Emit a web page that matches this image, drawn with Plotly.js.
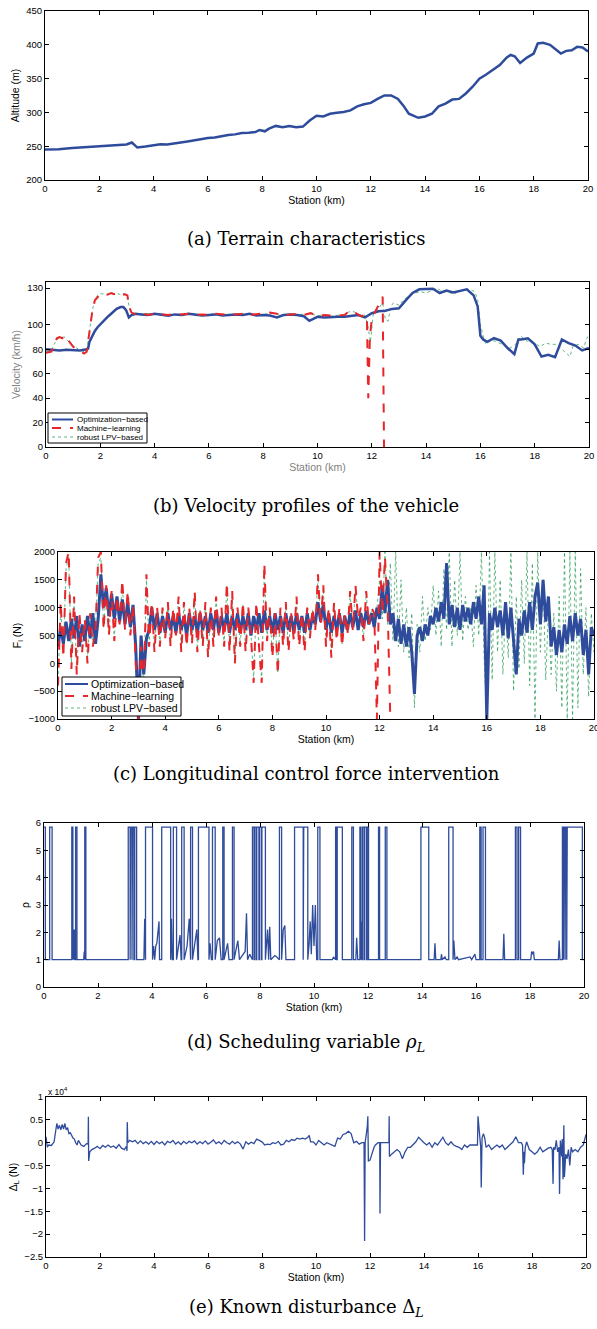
<!DOCTYPE html>
<html>
<head>
<meta charset="utf-8">
<script src="https://cdn.plot.ly/plotly-3.0.1.min.js"></script>
<style>html,body{margin:0;padding:0;background:#fff;}#chart{width:597px;height:1329px;}</style>
</head>
<body>
<div id="chart"></div>
<script>
// ---------------- (a) Terrain ----------------
const altStation = [0,0.5,1,1.5,2,2.5,3,3.2,3.4,3.7,4,4.25,4.5,4.75,5,5.25,5.5,5.75,6,6.25,6.5,6.75,7,7.25,7.5,7.75,7.9,8.1,8.25,8.5,8.75,9,9.25,9.5,9.75,10,10.25,10.5,10.75,11,11.25,11.5,11.75,12,12.25,12.5,12.75,13,13.2,13.4,13.75,14,14.25,14.5,14.75,15,15.25,15.5,15.75,16,16.25,16.5,16.75,17,17.15,17.3,17.5,17.75,18,18.15,18.35,18.6,18.8,19,19.2,19.4,19.6,19.8,20];
const altitude   = [245,245.5,247.5,248.5,250,251.5,252.5,255.5,248,249.5,252,253,252.5,253.5,255.5,257,259,260.5,262,263,265,266.5,267.5,269.5,270,271,274,272,276,280,278,280,278,279,288,295,294,298,299.5,300.5,303,309,312,314,320,325,325,320,310,298,292,294,298,309,313,319,320,328,338,350,356,363,370,381,385,383,373,381,387,402,403,400,394,387,391,392,397,396,390];

// ---------------- (b) Velocity ----------------
const velOptStation = [0,0.25,0.5,0.75,1,1.25,1.5,1.55,1.6,1.7,1.8,1.9,2,2.1,2.25,2.4,2.5,2.6,2.75,2.85,2.95,3.05,3.15,3.3,3.5,3.75,4,4.25,4.5,4.75,5,5.25,5.5,5.75,6,6.25,6.5,6.75,7,7.25,7.5,7.75,8,8.25,8.5,8.75,9,9.25,9.5,9.7,10,10.25,10.5,10.75,11,11.25,11.5,11.75,12,12.25,12.5,12.75,13,13.25,13.5,13.75,14,14.25,14.5,14.75,15,15.25,15.5,15.75,15.9,16,16.1,16.25,16.5,16.75,17,17.25,17.4,17.5,17.75,18,18.25,18.5,18.75,19,19.25,19.5,19.75,20];
const velOpt = [80,79.5,79,79.5,79.5,79,80,80.5,86,91,95,98,100.5,103,106,109,111,113,114.5,114.5,112,106,108,109,108.5,108,109,108,107.5,108.5,108,109,108,107.5,108,108.5,107.5,108,108.5,108,109,107.5,108,107.5,106,108,108.5,108,107,103.2,106.5,106,106.5,106.5,106.5,107.5,108,106,109.5,111,111.5,113,113.5,120,126,129,129.5,129.5,126,128,126.5,128,129,124,115,91,88,86,89,87,81,76,88,88,89,84,74,75.5,73.5,88,85,83,79,81];

const velMLStation = [0,0.2,0.3,0.4,0.5,0.6,0.7,0.8,1.0,1.2,1.4,1.5,1.6,1.7,1.8,1.9,2.0,2.25,2.4,2.5,2.6,2.75,2.9,3.0,3.05,3.15,3.3,3.5,3.75,4,4.25,4.5,4.75,5,5.25,5.5,5.75,6,6.25,6.5,6.75,7,7.25,7.5,7.75,8,8.25,8.5,8.75,9,9.25,9.5,9.75,10,10.25,10.5,10.75,11,11.15,11.3,11.45,11.6,11.75,11.82,11.87,11.93,12.0,12.1,12.2,12.3,12.4,12.45];
const velML = [77,78,83,89,90,89,91,88,82,79,76.5,78,95,110,120,123,125,124.5,126,125,126,124,125,124,115,110,108.5,109.5,108,109,108.5,108,109,108.5,109,108,108.5,108,109,108.5,108,108.5,109,108,108.5,109,110,109,107.5,108.5,109,108,109.5,107,108,107.5,108,108,111,111.5,109,107,108,107,40,90,105,110,114,118,123,0];

const velLPVStation = [0,0.2,0.3,0.4,0.5,0.6,0.7,0.8,1.0,1.2,1.4,1.5,1.6,1.7,1.8,1.9,2.0,2.25,2.4,2.5,2.6,2.75,2.9,3.0,3.05,3.15,3.3,3.5,3.75,4,4.25,4.5,4.75,5,5.25,5.5,5.75,6,6.25,6.5,6.75,7,7.25,7.5,7.75,8,8.25,8.5,8.75,9,9.25,9.5,9.75,10,10.25,10.5,10.75,11,11.15,11.3,11.45,11.6,11.75,11.85,11.95,12.05,12.2,12.4,12.5,12.6,12.7,12.8,13,13.2,13.4,13.6,13.8,14,14.2,14.4,14.6,14.8,15,15.2,15.4,15.6,15.8,15.9,16.0,16.1,16.2,16.3,16.5,16.7,16.9,17.1,17.3,17.5,17.6,17.8,18.0,18.2,18.4,18.6,18.8,19.0,19.2,19.3,19.4,19.6,19.8,19.9,20];
const velLPV = [78,79,84,88,89.5,90,90,87,83,80,78,79,96,111,121,124,125.5,125,126.5,125.5,126,124.5,125.5,124,116,110.5,109,109,108.5,109,108,108.5,108.5,108,109,108.5,108,108.5,109,108,108.5,108,109,108.5,108,108.5,109.5,109,108,108,108.5,108.5,109,107.5,108,107,108,108.5,110.5,111,109.5,107.5,108,100,86,108,112,118,104,103,115,118,116,121,124,126,127,126,128,130,127,127,125,127,129,129,127,120,100,91,84,86,87,85,83,81,84,91,88,86,85,82,85,84,84,80,76,74,82,84,81,88,92];

// ---------------- (c) Longitudinal control force (N), sampled every 0.1 km ----------------
const forceStep = 0.1;
const forceOpt = [300,650,350,750,400,800,450,850,300,700,400,850,450,900,350,800,1600,1000,1350,850,
1250,800,1200,750,1150,700,1100,650,1050,300,-1000,500,-200,450,600,1000,600,900,550,850,
550,900,600,850,550,900,600,850,500,900,600,850,550,900,600,850,550,900,600,950,
550,850,600,900,550,850,600,900,550,850,600,900,500,850,600,900,550,950,600,850,
550,900,600,850,550,900,600,850,550,900,600,850,550,900,600,850,700,1100,750,1050,
600,900,550,850,600,900,550,850,600,900,650,950,600,900,650,950,700,900,650,1000,
800,1400,900,1500,700,900,400,800,350,700,300,650,200,-550,500,650,400,700,500,850,
700,1000,750,1100,800,1800,700,1050,650,1000,600,1050,750,1000,700,1100,800,1200,700,1400,
-1000,900,600,1000,650,950,500,1100,450,1000,400,-200,800,500,950,550,1100,600,1200,1450,
700,1500,750,1200,300,650,150,600,200,700,350,850,400,900,500,800,150,600,-200,650,500];
const forceML = [-400,1100,100,1800,2000,-100,1200,-200,900,200,
800,0,900,300,600,1900,2000,600,1400,500,
1300,400,1200,700,1500,600,1300,500,1050,100,
-1000,300,-500,1600,300,1100,200,1000,300,1000,
450,1100,300,1000,500,1200,200,1100,300,1000,
350,1300,200,1000,300,1100,100,1000,300,1200,
500,1000,300,1450,200,1300,0,1000,300,1100,
200,1000,500,-350,1100,300,-350,1800,400,1000,
100,900,-200,1000,300,1100,200,900,400,1200,
300,900,200,1000,450,1000,600,1600,700,1400,
300,1000,100,1100,400,1000,300,900,500,1300,
600,1400,800,1000,400,1300,700,1000,900,-1000,
2000,900,1900,1000,-1000];
const forceLPV = [-300,1000,200,1700,1900,0,1100,-100,850,250,
750,100,850,350,650,1800,1900,650,1300,550,
1250,450,1150,750,1400,650,1250,550,1000,150,
-900,350,-400,1500,350,1050,250,950,350,950,
500,1050,350,950,550,1150,250,1050,350,950,
400,1250,250,950,350,1050,150,950,350,1150,
550,950,350,1400,250,1250,50,950,350,1050,
250,950,550,-300,1050,350,-300,1700,450,950,
150,850,-150,950,350,1050,250,850,450,1150,
350,850,250,950,500,950,650,1550,750,1350,
350,950,150,1050,450,950,350,850,550,1250,
650,1350,850,950,450,1250,750,950,850,1000,
1500,800,2000,700,1800,400,2000,300,1500,200,
1000,100,900,-800,700,200,1200,400,1000,600,
1400,500,1300,300,1700,600,2000,300,1500,500,
2000,400,1200,600,1000,300,1400,500,2000,100,
-1000,2000,-300,2000,200,1500,-200,1000,100,2000,
-500,1200,-100,1500,0,2000,-400,1800,-1000,2000,
200,1500,-300,1000,-200,900,-500,1200,-800,2000,
-1000,2000,-1000,2000,-800,1700,-200,1000,-600,900,
200];

// ---------------- (d) Scheduling variable ----------------
const rhoStation = [0,0.05,0.05,0.21,0.21,0.3,0.3,1.03,1.03,1.07,1.07,1.1,1.12,1.13,1.14,1.17,1.17,1.22,1.22,1.47,1.49,1.51,1.51,1.55,1.55,
3.12,3.12,3.19,3.19,3.21,3.21,3.26,3.26,3.28,3.28,3.33,3.33,3.36,3.36,3.43,3.43,3.7,3.73,3.76,3.76,4.02,4.02,4.06,4.1,4.14,4.18,4.22,4.26,4.28,
4.36,4.36,4.69,4.69,4.72,4.75,4.79,4.79,4.91,4.91,5.0,5.04,5.08,5.1,5.1,5.19,5.19,5.3,5.38,5.42,5.43,5.43,5.5,5.5,5.6,5.66,5.7,5.72,5.72,6.11,6.11,
6.15,6.2,6.24,6.24,6.34,6.34,6.42,6.5,6.56,6.62,6.62,6.67,6.67,6.8,6.85,6.98,6.98,7.04,7.04,7.1,7.18,7.24,7.45,7.5,7.54,7.62,7.7,
7.72,7.72,7.78,7.78,7.8,7.8,7.86,7.86,7.88,7.88,7.96,7.96,7.98,7.98,8.05,8.05,8.07,8.07,8.2,8.2,8.28,8.32,8.36,8.4,8.55,8.62,8.7,
8.72,8.72,8.8,8.8,8.86,8.92,8.96,9.28,9.28,9.6,9.6,9.62,9.62,9.77,9.77,9.82,9.86,9.9,9.95,10.0,10.05,10.1,10.14,10.14,10.22,10.22,
10.68,10.72,10.78,10.8,10.8,10.84,10.84,10.86,10.86,11.05,11.05,11.4,11.4,11.46,11.46,11.55,11.58,11.62,11.7,11.7,11.74,11.74,11.76,11.78,
11.8,11.8,11.86,11.86,11.88,11.88,11.95,11.95,11.97,11.97,12.02,12.02,12.39,12.39,12.43,12.43,12.64,12.64,12.7,12.7,13.96,13.96,14.25,14.25,
14.45,14.48,14.51,14.7,14.72,14.75,14.85,14.9,14.99,14.99,15.15,15.15,15.18,15.22,15.3,15.35,15.78,15.84,15.96,16.0,16.14,16.14,16.19,16.19,
16.26,16.26,16.35,16.35,17.0,17.03,17.06,17.46,17.46,17.52,17.52,17.58,17.58,17.65,17.65,18.03,18.06,18.1,18.13,18.16,19.05,19.08,19.11,
19.2,19.2,19.24,19.24,19.26,19.26,19.3,19.3,19.32,19.32,19.36,19.36,19.38,19.38,19.94,19.94,20];
const rhoValue = [5.85,5.85,1,1,5.85,5.85,1,1,5.85,5.85,1,2.1,1,2.1,1,1,5.85,5.85,1,1,1.3,1,5.85,5.85,1,
1,5.85,5.85,1,1,5.85,5.85,1,1,5.85,5.85,1,1,5.85,5.85,1,1,2.5,1,5.85,5.85,1,1.5,1,1.5,1.6,2.0,2.4,1,
1,5.85,5.85,1,2.5,1,1,5.85,5.85,1,1.6,1.9,1,1,5.85,5.85,1,1.5,2.5,1,1,5.85,5.85,1,1.8,2.1,1,1,5.85,5.85,1,
1.6,1,1,5.85,5.85,1,1.7,1.8,1,1,5.85,5.85,1,1.6,1,1,5.85,5.85,1,1.3,1.7,1,1.3,2.7,1,1.2,1,
1,5.85,5.85,1,1,5.85,5.85,1,1,5.85,5.85,1,1,5.85,5.85,1,1,5.85,5.85,1,2.1,1,2.2,1,1.15,1.1,1,
1,5.85,5.85,1,2.1,2.25,1,1,5.85,5.85,1,1,5.85,5.85,1,1.6,2.4,1.2,3.0,1.5,3.0,1,1,5.85,5.85,1,
1,1.1,1,1,5.85,5.85,1,1,5.85,5.85,1,1,5.85,5.85,1,1,1.8,1,1,5.85,5.85,1,2.4,1,
1,5.85,5.85,1,1,5.85,5.85,1,1,5.85,5.85,1,1,5.85,5.85,1,1,5.85,5.85,1,1,5.85,5.85,1,
1,1.6,1,1,1.2,1,1.1,1,1,5.85,5.85,1,1.7,1,1.1,1,1.1,1,1.2,1,1,5.85,5.85,1,
1,5.85,5.85,1,1,1.95,1,1,5.85,5.85,1,1,5.85,5.85,1,1,1.3,1.2,1.3,1,1,1.7,1,
1,5.85,5.85,1,1,5.85,5.85,1,1,5.85,5.85,1,1,5.85,5.85,1,1,5.85,5.85];

// ---------------- (e) Known disturbance (x 10^4 N) ----------------
const distStation = [0,0.05,0.1,0.2,0.3,0.35,0.4,0.45,0.5,0.55,0.6,0.65,0.7,0.75,0.8,0.85,0.9,1.0,1.05,1.1,1.15,1.2,1.3,1.4,1.5,1.56,1.57,1.58,1.62,1.7,1.8,1.9,2.0,2.1,2.2,2.3,2.4,2.5,2.6,2.7,2.8,2.9,2.98,3.0,3.01,3.03,3.1,3.2,3.3,3.4,3.5,3.6,3.7,3.8,3.9,4.0,4.1,4.2,4.3,4.4,4.5,4.6,4.7,4.8,4.9,5.0,5.1,5.2,5.3,5.4,5.5,5.6,5.7,5.8,5.9,6.0,6.1,6.2,6.3,6.4,6.5,6.6,6.7,6.8,6.9,7.0,7.1,7.2,7.3,7.4,7.5,7.6,7.7,7.8,7.9,8.0,8.1,8.2,8.3,8.4,8.5,8.6,8.7,8.8,8.9,9.0,9.1,9.2,9.3,9.4,9.5,9.6,9.7,9.75,9.8,9.9,10.0,10.1,10.2,10.3,10.4,10.5,10.6,10.7,10.8,10.9,11.0,11.1,11.2,11.3,11.4,11.5,11.6,11.7,11.78,11.8,11.82,11.9,11.92,11.94,12.0,12.1,12.15,12.2,12.3,12.36,12.37,12.39,12.7,12.71,12.72,12.8,12.9,13.0,13.1,13.2,13.3,13.4,13.5,13.6,13.7,13.8,13.9,14.0,14.1,14.2,14.3,14.4,14.5,14.6,14.7,14.8,14.9,15.0,15.1,15.2,15.3,15.4,15.5,15.6,15.7,15.8,15.98,16.0,16.05,16.1,16.12,16.15,16.2,16.25,16.3,16.4,16.5,16.6,16.7,16.8,16.9,17.0,17.1,17.2,17.3,17.4,17.5,17.6,17.65,17.68,17.7,17.72,17.75,17.8,17.9,18.0,18.1,18.2,18.3,18.4,18.5,18.6,18.7,18.75,18.78,18.8,18.85,18.9,18.95,19.0,19.02,19.05,19.1,19.12,19.15,19.18,19.2,19.25,19.3,19.35,19.4,19.45,19.5,19.6,19.7,19.8,19.9,20.0];
const disturbance = [0.13,-0.1,-0.05,-0.06,0.02,0.2,0.42,0.3,0.38,0.28,0.4,0.3,0.42,0.28,0.33,0.2,0.22,0.1,0.08,0.0,-0.05,0.05,-0.05,-0.08,-0.02,-0.03,0.57,-0.4,-0.2,-0.15,-0.12,-0.08,-0.13,-0.06,-0.1,-0.05,-0.1,-0.07,-0.12,-0.04,-0.12,-0.15,-0.08,-0.18,0.45,0.0,0.05,0.02,0.05,-0.02,0.04,-0.02,0.02,-0.03,0.03,-0.04,0.03,-0.02,0.02,-0.05,0.03,0.0,0.05,-0.03,0.02,-0.04,0.03,-0.02,0.03,0.0,0.04,-0.03,0.02,-0.02,0.04,-0.03,0.01,0.06,-0.02,0.02,-0.03,0.05,0.0,-0.03,0.03,-0.02,0.02,-0.03,-0.14,0.02,-0.03,0.01,-0.02,0.08,0.05,0.02,-0.05,-0.03,-0.04,0.0,-0.02,0.03,-0.05,-0.03,0.05,0.02,0.07,0.05,0.1,0.08,0.1,0.08,0.12,0.16,0.02,0.02,-0.05,0.05,0.0,-0.05,0.0,-0.03,-0.05,-0.08,0.1,0.08,0.18,0.2,0.25,0.2,0.0,0.03,-0.03,0.0,0.0,-2.15,0.0,0.35,0.58,-0.4,-0.38,-0.15,-0.1,-0.05,0.0,0.0,-1.55,0.0,0.0,0.58,-0.3,-0.25,-0.2,-0.15,-0.2,-0.35,-0.2,-0.1,-0.1,-0.05,0.02,0.12,0.05,0.0,-0.05,0.0,-0.1,0.0,-0.05,0.05,0.12,0.0,-0.05,0.02,-0.05,-0.08,-0.1,-0.15,-0.05,-0.1,-0.05,-0.05,-0.05,0.58,0.3,-0.1,-0.98,0.1,0.2,0.1,-0.1,-0.05,-0.15,-0.1,-0.05,-0.1,-0.05,-0.15,-0.1,-0.05,0.02,0.13,0.0,0.0,-0.05,-0.7,-0.2,-0.45,-0.1,0.02,-0.15,-0.2,-0.25,-0.2,-0.1,-0.2,-0.15,-0.12,-0.1,-0.15,-0.9,-0.1,-0.15,0.05,-0.2,-0.1,-1.12,0.05,-0.3,0.08,-0.8,0.38,-0.75,-0.25,-0.35,-0.15,-0.5,-0.1,-0.2,-0.15,-0.2,-0.1,-0.05,0.18];

// ---------------- Labels ----------------
const stationTicks = [0,2,4,6,8,10,12,14,16,18,20];
const velTicks = [0,20,40,60,80,100,130];
const seriesNames = ['Optimization\u2212based','Machine\u2212learning','robust LPV\u2212based'];
const captions = ['(a) Terrain characteristics','(b) Velocity profiles of the vehicle','(c) Longitudinal control force intervention','(d) Scheduling variable <i>\u03c1<sub>L</sub></i>','(e) Known disturbance \u0394<sub><i>L</i></sub>'];

// ---------------- Build ----------------
const W = 597, H = 1329;
const BLUE = '#2f4c9c', RED = '#e8262a', GREEN = 'rgba(30,150,80,0.7)', GRAY = '#7f7f7f';
const seriesStyles = [{color:BLUE, width:2.5, dash:'solid'}, {color:RED, width:2, dash:'dash'}, {color:GREEN, width:1, dash:'dot'}];
const fx = p => p / W;
const fy = p => (H - p) / H;
const forceStations = arr => arr.map((_, i) => Math.round(i * forceStep * 100) / 100);

// panel boxes in pixels [left, right, top, bottom]
const boxes = [[45,588,11,180],[46,589,282,447],[58,594,552,719],[44,584,823,987],[46,586,1097,1257]];
const captionY = [238,505,773,1043,1308];
const sansFamily = 'Liberation Sans, Arial, sans-serif';
const tickFont = {family:sansFamily, size:9.5, color:'#000'};
const titleFont = {family:sansFamily, size:10.5, color:'#000'};

const layout = {width:W, height:H, margin:{l:0,r:0,t:0,b:0}, autosize:false,
  paper_bgcolor:'#fff', plot_bgcolor:'#fff', showlegend:false, annotations:[], shapes:[]};

const yDefs = [
  {range:[200,450], dtick:50, title:'Altitude (m)', color:'#000'},
  {range:[0,135], tickvals:velTicks, title:'Velocity (km/h)', color:GRAY},
  {range:[-1000,2000], dtick:500, title:'F<sub>l</sub> (N)', color:'#000'},
  {range:[0,6], dtick:1, title:'\u03c1', color:'#000'},
  {range:[-2.5,1], dtick:0.5, title:'\u0394<sub>L</sub> (N)', color:'#000'}
];

boxes.forEach((b, i) => {
  const n = i === 0 ? '' : String(i + 1);
  const xa = {domain:[fx(b[0]), fx(b[1])], range:[0,20], tickvals:stationTicks, ticks:'inside', ticklen:4,
    tickcolor:'#000', showline:true, linecolor:'#000', linewidth:1, mirror:'allticks', showgrid:false,
    zeroline:false, tickfont:tickFont, anchor:'y' + n, fixedrange:true, ticklabeloverflow:'allow',
    title:{text:'Station (km)', font:Object.assign({}, titleFont, {color: i === 1 ? GRAY : '#000'}), standoff:2}};
  const d = yDefs[i];
  const ya = {domain:[fy(b[3]), fy(b[2])], range:d.range, ticks:'inside', ticklen:4, tickcolor:'#000',
    showline:true, linecolor:'#000', linewidth:1, mirror:'allticks', showgrid:false, zeroline:false,
    tickfont:tickFont, anchor:'x' + n, fixedrange:true, ticklabeloverflow:'allow',
    title:{text:d.title, font:Object.assign({}, titleFont, {color:d.color}), standoff:4}};
  if (d.tickvals) ya.tickvals = d.tickvals; else ya.dtick = d.dtick;
  layout['xaxis' + n] = xa;
  layout['yaxis' + n] = ya;
  layout.annotations.push({text:captions[i], xref:'paper', yref:'paper', x:fx(306), y:fy(captionY[i]),
    xanchor:'center', yanchor:'middle', showarrow:false,
    font:{family:'DejaVu Serif, serif', size:18, color:'#000'}});
});
layout.annotations.push({text:'x 10<sup>4</sup>', xref:'paper', yref:'paper', x:fx(46), y:fy(1091),
  xanchor:'left', yanchor:'middle', showarrow:false, font:{family:sansFamily, size:8.5, color:'#000'}});

// Hand-placed legend boxes (box px [left, right, top, bottom], rows y px, sample x px, font size)
const legendDefs = [
  {box:[48,147,413,443], rows:[419.5,428,437], sample:[52,73], textX:75, size:8},
  {box:[62,181,677,716], rows:[684,696,708], sample:[65,88], textX:89, size:10.5}
];
legendDefs.forEach(L => {
  layout.shapes.push({type:'rect', xref:'paper', yref:'paper', x0:fx(L.box[0]), x1:fx(L.box[1]),
    y0:fy(L.box[3]), y1:fy(L.box[2]), line:{color:'#000', width:1}, fillcolor:'#fff', layer:'above'});
  L.rows.forEach((ry, k) => {
    const st = seriesStyles[k];
    layout.shapes.push({type:'line', xref:'paper', yref:'paper', x0:fx(L.sample[0]), x1:fx(L.sample[1]),
      y0:fy(ry), y1:fy(ry), line:{color:st.color, width:Math.min(st.width, 2), dash:st.dash}, layer:'above'});
    layout.annotations.push({text:seriesNames[k], xref:'paper', yref:'paper', x:fx(L.textX), y:fy(ry),
      xanchor:'left', yanchor:'middle', showarrow:false, font:{family:sansFamily, size:L.size, color:'#000'}});
  });
});

const traces = [
  {x:altStation, y:altitude, xaxis:'x', yaxis:'y', mode:'lines', line:{color:BLUE, width:2.5}},
  // (b)
  {x:velLPVStation, y:velLPV, xaxis:'x2', yaxis:'y2', mode:'lines', name:seriesNames[2], line:{color:GREEN, width:1, dash:'dot'}},
  {x:velOptStation, y:velOpt, xaxis:'x2', yaxis:'y2', mode:'lines', name:seriesNames[0], line:{color:BLUE, width:2.5}},
  {x:velMLStation, y:velML, xaxis:'x2', yaxis:'y2', mode:'lines', name:seriesNames[1], line:{color:RED, width:2, dash:'dash'}},
  // (c)
  {x:forceStations(forceLPV), y:forceLPV, xaxis:'x3', yaxis:'y3', mode:'lines', name:seriesNames[2], line:{color:GREEN, width:1, dash:'dot'}},
  {x:forceStations(forceOpt), y:forceOpt, xaxis:'x3', yaxis:'y3', mode:'lines', name:seriesNames[0], line:{color:BLUE, width:3}},
  {x:forceStations(forceML), y:forceML, xaxis:'x3', yaxis:'y3', mode:'lines', name:seriesNames[1], line:{color:RED, width:2, dash:'dash'}},
  // (d)
  {x:rhoStation, y:rhoValue, xaxis:'x4', yaxis:'y4', mode:'lines', line:{color:BLUE, width:1.3}},
  // (e)
  {x:distStation, y:disturbance, xaxis:'x5', yaxis:'y5', mode:'lines', line:{color:BLUE, width:1.3}}
];

Plotly.newPlot('chart', traces, layout, {displayModeBar:false, staticPlot:true});
</script>
</body>
</html>
